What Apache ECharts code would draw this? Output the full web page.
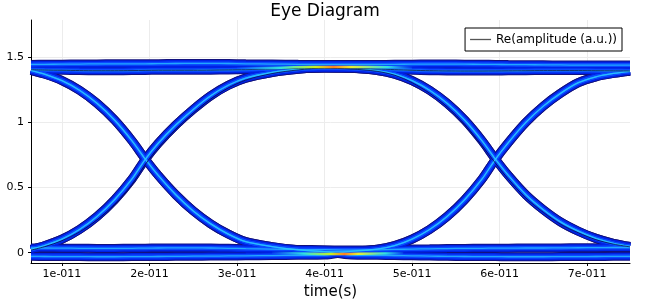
<!DOCTYPE html>
<html>
<head>
<meta charset="utf-8" />
<title>Eye Diagram</title>
<script src="https://cdn.jsdelivr.net/npm/echarts@6/dist/echarts.min.js"></script>
<style>
  html, body { margin: 0; padding: 0; background: #fff; }
  #main { width: 650px; height: 301px; }
</style>
</head>
<body>
<div id="main"></div>
<script>
// time axis, in units of 1e-11 s (first 17 points: bit 1 window, last 17: bit 2 window)
var timeE11 = [0.646, 0.8, 1.0, 1.2, 1.4, 1.6, 1.8, 1.95, 2.1, 2.3, 2.5, 2.7, 2.9, 3.1, 3.4, 3.7, 4.0,
               4.3, 4.6, 4.8, 5.0, 5.2, 5.4, 5.6, 5.8, 5.95, 6.1, 6.3, 6.5, 6.7, 6.9, 7.1, 7.3, 7.49];

// first window segments
var fallA = [1.40, 1.371, 1.321, 1.247, 1.147, 1.019, 0.859, 0.72, 0.593, 0.445, 0.321, 0.221, 0.143, 0.085, 0.047, 0.022, 0.008];
var riseA = [0.025, 0.054, 0.104, 0.178, 0.278, 0.406, 0.566, 0.715, 0.84, 0.98, 1.10, 1.205, 1.285, 1.34, 1.383, 1.408, 1.42];
var riseLateA = [0.02, 0.046, 0.092, 0.16, 0.252, 0.37, 0.524, 0.675, 0.805, 0.947, 1.072, 1.18, 1.265, 1.325, 1.375, 1.403, 1.418];
var hiA1 = [1.445, 1.446, 1.447, 1.448, 1.449, 1.45, 1.45, 1.45, 1.451, 1.452, 1.453, 1.453, 1.452, 1.45, 1.448, 1.446, 1.445];
var hiA2 = [1.405, 1.402, 1.40, 1.398, 1.397, 1.397, 1.398, 1.399, 1.40, 1.40, 1.40, 1.401, 1.403, 1.405, 1.41, 1.414, 1.416];
var loA1 = [0.036, 0.036, 0.035, 0.034, 0.033, 0.033, 0.034, 0.035, 0.036, 0.037, 0.037, 0.036, 0.034, 0.031, 0.028, 0.025, 0.023];
var loA2 = [-0.028, -0.029, -0.03, -0.03, -0.031, -0.031, -0.03, -0.03, -0.029, -0.028, -0.027, -0.026, -0.025, -0.024, -0.022, -0.02, -0.018];

// second window segments
var fallB = [1.415, 1.398, 1.371, 1.321, 1.247, 1.147, 1.019, 0.859, 0.72, 0.593, 0.445, 0.33, 0.235, 0.165, 0.11, 0.072, 0.048];
var fallEarlyB = [1.41, 1.392, 1.362, 1.305, 1.225, 1.12, 0.985, 0.82, 0.69, 0.565, 0.42, 0.31, 0.218, 0.152, 0.10, 0.066, 0.045];
var riseB = [0.01, 0.027, 0.054, 0.104, 0.178, 0.278, 0.406, 0.566, 0.715, 0.845, 1.0, 1.125, 1.225, 1.305, 1.35, 1.376, 1.392];
var hiB1 = [1.445, 1.445, 1.446, 1.447, 1.448, 1.448, 1.447, 1.446, 1.445, 1.444, 1.443, 1.442, 1.441, 1.44, 1.44, 1.44, 1.44];
var hiB2 = [1.415, 1.41, 1.405, 1.40, 1.397, 1.395, 1.394, 1.394, 1.395, 1.396, 1.397, 1.398, 1.398, 1.398, 1.397, 1.396, 1.395];
var loB1 = [0.02, 0.022, 0.025, 0.028, 0.03, 0.032, 0.033, 0.034, 0.035, 0.035, 0.036, 0.036, 0.037, 0.038, 0.039, 0.04, 0.04];
var loB2 = [-0.018, -0.02, -0.022, -0.024, -0.026, -0.028, -0.029, -0.03, -0.03, -0.031, -0.031, -0.031, -0.03, -0.03, -0.029, -0.028, -0.028];

// dense spots (where many traces overlap)
var hotHiTime = [3.0, 3.5, 3.85, 4.1, 4.5, 5.0];
var hotHiVal = [1.415, 1.42, 1.425, 1.425, 1.425, 1.42];
var hotLoTime = [3.4, 3.85, 4.1, 4.4, 4.9];
var hotLoVal = [0.0, -0.008, -0.01, -0.008, -0.004];

var xTicks = [1, 2, 3, 4, 5, 6, 7];
var yTicks = [0, 0.5, 1, 1.5];
var legendName = 'Re(amplitude (a.u.))';

var traces = [
    hiA1.concat(hiB1),
    hiA2.concat(fallB),
    riseA.concat(hiB2),
    riseA.concat(fallB),
    loA1.concat(loB1),
    loA2.concat(riseB),
    fallA.concat(loB2),
    fallA.concat(riseB)
];
// single odd traces drawn as hairlines
var hairTraces = [
    riseLateA.concat(hiB2),
    hiA2.concat(fallEarlyB)
];

function pairs(ts, vals) {
    return ts.map(function (t, i) { return [t, vals[i]]; });
}

// layered strokes to imitate the density colouring
var layers = [
    { width: 9, color: '#12127e', opacity: 1 },
    { width: 7, color: '#0022e6', opacity: 1 },
    { width: 4, color: '#0a4cff', opacity: 1 },
    { width: 1.3, color: '#2ac6ff', opacity: 0.75 }
];

var series = [];
layers.forEach(function (ly) {
    traces.forEach(function (tr) {
        series.push({
            type: 'line',
            data: pairs(timeE11, tr),
            smooth: 0.3,
            symbol: 'none',
            silent: true,
            lineStyle: { width: ly.width, color: ly.color, opacity: ly.opacity }
        });
    });
});

hairTraces.forEach(function (tr) {
    series.push({
        type: 'line',
        data: pairs(timeE11, tr),
        smooth: 0.3,
        symbol: 'none',
        silent: true,
        lineStyle: { width: 0.8, color: '#06063a', opacity: 0.9 }
    });
});

function hot(ts, vs, w) {
    return {
        type: 'line',
        data: pairs(ts, vs),
        smooth: true,
        symbol: 'none',
        silent: true,
        lineStyle: {
            width: w,
            color: new echarts.graphic.LinearGradient(0, 0, 1, 0, [
                { offset: 0, color: 'rgba(40,200,255,0)' },
                { offset: 0.25, color: '#30e0e0' },
                { offset: 0.45, color: '#c8f020' },
                { offset: 0.55, color: '#ff8020' },
                { offset: 0.65, color: '#e8f030' },
                { offset: 0.85, color: '#30e0e0' },
                { offset: 1, color: 'rgba(40,200,255,0)' }
            ])
        }
    };
}
series.push(hot(hotHiTime, hotHiVal, 2.5));
series.push(hot(hotLoTime, hotLoVal, 2.5));

series.push({
    name: legendName,
    type: 'line',
    data: [],
    symbol: 'none',
    itemStyle: { color: '#555' },
    lineStyle: { color: '#555', width: 1.2 }
});

var font = 'DejaVu Sans';
var chart = echarts.init(document.getElementById('main'));
chart.setOption({
    animation: false,
    backgroundColor: '#fff',
    title: {
        text: 'Eye Diagram',
        left: 'center',
        top: 3,
        padding: [0, 0, 0, 11],
        textStyle: { fontFamily: font, fontSize: 17, fontWeight: 'normal', color: '#000' }
    },
    legend: {
        data: [legendName],
        icon: 'rect',
        right: 28,
        top: 28,
        padding: [5, 5, 5, 5],
        itemWidth: 21,
        itemHeight: 1.3,
        itemGap: 4,
        itemStyle: { color: '#555' },
        borderColor: '#000',
        borderWidth: 1,
        borderRadius: 0,
        backgroundColor: '#fff',
        textStyle: { fontFamily: font, fontSize: 12, color: '#000', lineHeight: 13 }
    },
    grid: { left: 31, right: 20, top: 20, bottom: 38, containLabel: false, outerBoundsMode: 'none' },
    xAxis: {
        type: 'value',
        min: 0.646,
        max: 7.49,
        name: 'time(s)',
        nameLocation: 'middle',
        nameGap: 14,
        nameTextStyle: { fontFamily: font, fontSize: 15, color: '#000' },
        axisLine: { onZero: false, lineStyle: { color: '#000', width: 1 } },
        axisTick: { show: true, length: 3, customValues: xTicks, lineStyle: { color: '#000' } },
        axisLabel: {
            customValues: xTicks,
            margin: 6,
            fontFamily: font,
            fontSize: 11,
            color: '#000',
            formatter: function (v) { return v + 'e-011'; }
        },
        splitLine: { show: true, lineStyle: { color: '#ececec', width: 1 } }
    },
    yAxis: {
        type: 'value',
        min: -0.079,
        max: 1.786,
        axisLine: { show: true, onZero: false, lineStyle: { color: '#000', width: 1 } },
        axisTick: { show: true, length: 3, customValues: yTicks, lineStyle: { color: '#000' } },
        axisLabel: {
            customValues: yTicks,
            margin: 7,
            fontFamily: font,
            fontSize: 11,
            color: '#000',
            formatter: function (v) { return String(v); }
        },
        splitLine: { show: true, lineStyle: { color: '#ececec', width: 1 } }
    },
    series: series
});
</script>
</body>
</html>
